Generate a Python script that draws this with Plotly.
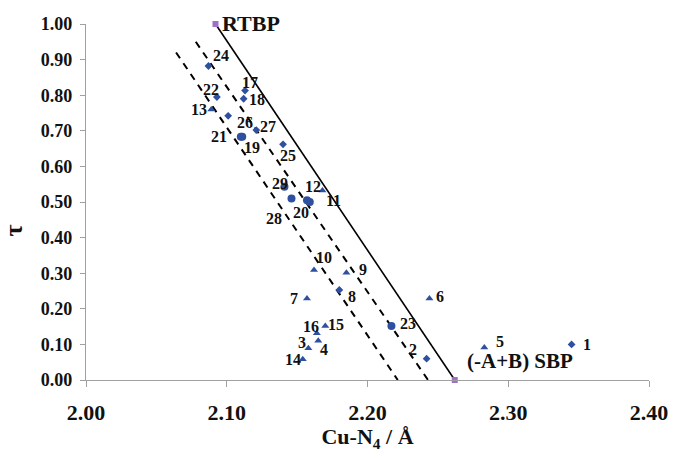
import plotly.graph_objects as go

# ---- data ----
ids = ["1", "2", "3", "4", "5", "6", "7", "8", "9", "10",
       "11", "12", "13", "14", "15", "16", "17", "18", "19", "20",
       "21", "22", "23", "24", "25", "26", "27", "28", "29"]
cu_n4 = [2.345, 2.242, 2.158, 2.165, 2.283, 2.244, 2.157, 2.180, 2.185, 2.162,
         2.159, 2.168, 2.089, 2.154, 2.170, 2.164, 2.113, 2.112, 2.111, 2.157,
         2.110, 2.093, 2.217, 2.087, 2.140, 2.101, 2.121, 2.146, 2.141]
tau = [0.100, 0.060, 0.089, 0.110, 0.091, 0.229, 0.229, 0.253, 0.301, 0.309,
       0.500, 0.532, 0.760, 0.058, 0.152, 0.131, 0.813, 0.790, 0.683, 0.505,
       0.683, 0.795, 0.152, 0.882, 0.662, 0.742, 0.702, 0.510, 0.543]
shape = ["d", "d", "t", "t", "t", "t", "t", "d", "t", "t",
         "c", "t", "t", "t", "t", "t", "d", "d", "c", "c",
         "c", "d", "c", "d", "d", "d", "d", "c", "c"]

ref_names = ["RTBP", "(-A+B) SBP"]
ref_x = [2.092, 2.262]
ref_y = [1.00, 0.00]

dash1_x = [2.064, 2.2215]
dash1_y = [0.92, 0.00]
dash2_x = [2.078, 2.243]
dash2_y = [0.95, 0.00]

x_ticks = [2.00, 2.10, 2.20, 2.30, 2.40]
y_ticks = [0.0, 0.1, 0.2, 0.3, 0.4, 0.5, 0.6, 0.7, 0.8, 0.9, 1.0]

# ---- label placement (pixel offsets: right, down) ----
label_off = {
    "1": (15, 0), "2": (-14, -9), "3": (-6, -6), "4": (6, 9), "5": (16, -6),
    "6": (11, -2), "7": (-13, 0), "8": (13, 7), "9": (17, -3), "10": (10, -13),
    "11": (24, -2), "12": (-9, -4), "13": (-12, 0), "14": (-10, 0), "15": (11, -1),
    "16": (-6, -7), "17": (5, -8), "18": (13, 1), "19": (10, 11), "20": (-6, 12),
    "21": (-22, 0), "22": (-6, -7), "23": (17, -2), "24": (13, -11), "25": (5, 11),
    "26": (17, 7), "27": (12, -4), "28": (-17, 20), "29": (-4, -3),
}

BLUE = "#2F4F9F"
FONT = "Liberation Serif"
TXT = "#111111"

fig = go.Figure()

fig.add_trace(go.Scatter(x=dash1_x, y=dash1_y, mode="lines",
                         line=dict(color="black", width=2, dash="7px,6px"),
                         showlegend=False, hoverinfo="skip"))
fig.add_trace(go.Scatter(x=dash2_x, y=dash2_y, mode="lines",
                         line=dict(color="black", width=2, dash="7px,6px"),
                         showlegend=False, hoverinfo="skip"))
fig.add_trace(go.Scatter(x=ref_x, y=ref_y, mode="lines+markers",
                         line=dict(color="black", width=1.6),
                         marker=dict(symbol="square", size=6, color="#A070C8"),
                         showlegend=False, cliponaxis=False))

sym_map = {"t": ("triangle-up", 7), "d": ("diamond", 6), "c": ("circle", 8)}
for key in ["t", "d", "c"]:
    xs = [x for x, s in zip(cu_n4, shape) if s == key]
    ys = [y for y, s in zip(tau, shape) if s == key]
    sym, sz = sym_map[key]
    fig.add_trace(go.Scatter(x=xs, y=ys, mode="markers",
                             marker=dict(symbol=sym, size=sz, color=BLUE),
                             showlegend=False, cliponaxis=False))

annotations = []
for i, x, y in zip(ids, cu_n4, tau):
    dx, dy = label_off[i]
    annotations.append(dict(x=x, y=y, xref="x", yref="y", text="<b>%s</b>" % i,
                            showarrow=False, xshift=dx, yshift=-dy,
                            font=dict(family=FONT, size=16, color=TXT)))

annotations.append(dict(x=ref_x[0], y=ref_y[0], xref="x", yref="y",
                        text="<b>%s</b>" % ref_names[0], showarrow=False,
                        xanchor="left", xshift=5, yshift=1,
                        font=dict(family=FONT, size=22, color=TXT)))
annotations.append(dict(x=ref_x[1], y=ref_y[1], xref="x", yref="y",
                        text="<b>%s</b>" % ref_names[1], showarrow=False,
                        xanchor="left", xshift=10, yshift=19,
                        font=dict(family=FONT, size=21, color=TXT)))
annotations.append(dict(x=-0.125, y=0.42, xref="paper", yref="y",
                        text="<b>τ</b>", showarrow=False, textangle=-90,
                        xshift=-19,
                        font=dict(family=FONT, size=26, color=TXT)))

fig.update_layout(
    width=680, height=458,
    margin=dict(l=86, r=24, t=24, b=78),
    paper_bgcolor="white", plot_bgcolor="white",
    annotations=annotations,
    xaxis=dict(range=[2.0, 2.4], tickvals=x_ticks,
               ticktext=["<b>%.2f</b>" % v for v in x_ticks],
               showgrid=False, zeroline=False, showline=True,
               linecolor="#A0A0A0", linewidth=1.2,
               ticks="outside", ticklen=6, tickcolor="#A0A0A0",
               tickfont=dict(family=FONT, size=22, color=TXT),
               ticklabelstandoff=6,
               title=dict(text="<b>Cu-N<sub>4</sub> / Å</b>",
                          font=dict(family=FONT, size=22, color=TXT),
                          standoff=2)),
    yaxis=dict(range=[0, 1.0], tickvals=y_ticks,
               ticktext=["<b>%.2f</b>" % v for v in y_ticks],
               showgrid=False, zeroline=False, showline=True,
               linecolor="#A0A0A0", linewidth=1.2,
               ticks="outside", ticklen=5, tickcolor="#A0A0A0",
               tickfont=dict(family=FONT, size=18, color=TXT),
               ticklabelstandoff=4),
)

fig.write_html("out.html")
